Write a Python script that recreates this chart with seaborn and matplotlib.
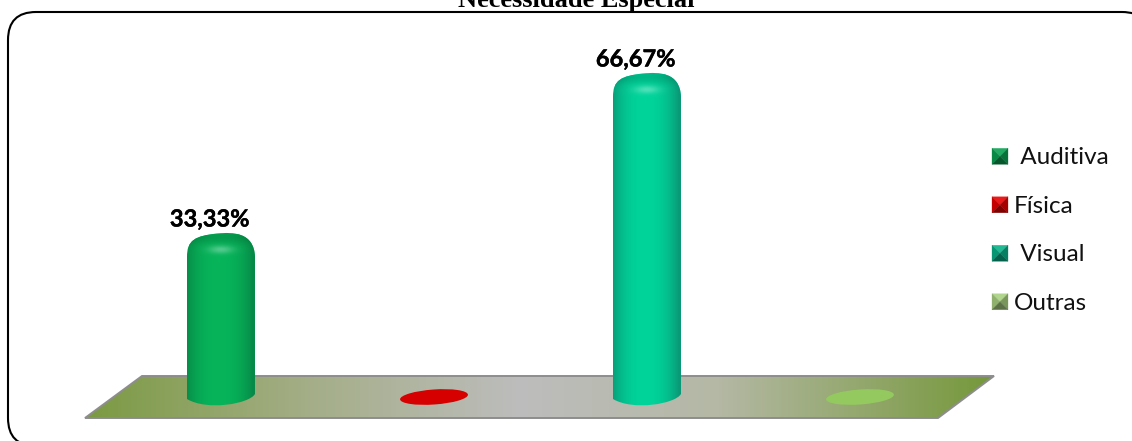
import numpy as np
import pandas as pd
import seaborn as sns
import matplotlib
matplotlib.use("Agg")
import matplotlib.pyplot as plt
import matplotlib.patheffects as pe
from matplotlib.path import Path
from matplotlib.patches import PathPatch, Polygon, Ellipse, FancyBboxPatch, Patch
from matplotlib.colors import to_rgb
from matplotlib.legend_handler import HandlerBase

categories = ["Auditiva", "Física", "Visual", "Outras"]
values = [33.33, 0.0, 66.67, 0.0]
value_labels = ["33,33%", "", "66,67%", ""]
legend_labels = [" Auditiva", "Física", " Visual", "Outras"]
base_colors = ["#06b45a", "#d60000", "#00d49a", "#93c95f"]
edge_colors = ["#078a47", "#c00000", "#0a9a78", "#93c95f"]
title = "Necessidade Especial"

W, H = 1132, 441
BASE_PX, XSTEP, X0, YS = 393.0, 213.0, 221.0, 4.8
sns.set_theme(style="white")
plt.rcParams["font.family"] = ["Lato", "DejaVu Sans"]

fig = plt.figure(figsize=(W / 100, H / 100), dpi=100, facecolor="white")
deco = fig.add_axes([0, 0, 1, 1], zorder=0)
deco.axis("off")
ax = fig.add_axes([0, 0, 1, 1], zorder=1)
ax.patch.set_alpha(0)

df = pd.DataFrame({"cat": categories, "val": values})
sns.barplot(data=df, x="cat", y="val", hue="cat", palette=base_colors, order=categories,
            width=68 / XSTEP, legend=False, ax=ax, saturation=1)
ax.set_xlim(-X0 / XSTEP, (W - X0) / XSTEP)
ax.set_ylim((BASE_PX - H) / YS, BASE_PX / YS)
ax.axis("off")

def dx(px): return (px - X0) / XSTEP
def dy(py): return (BASE_PX - py) / YS

# frame, running off the right and bottom edges
frame = FancyBboxPatch((30, 34), 1098, 390, boxstyle="round,pad=22,rounding_size=28",
                       fc="white", ec="black", lw=1.5)
deco.add_patch(frame)

# floor
floor_pts = [(85, 418), (142, 376), (994, 376), (938, 418)]
stops_x = [85, 300, 520, 720, 994]
stops_c = [to_rgb(c) for c in ["#7b9a42", "#a3ad85", "#bdbdbd", "#b4b8a4", "#75983a"]]
xs = np.linspace(85, 994, 400)
grad = np.stack([np.interp(xs, stops_x, [c[i] for c in stops_c]) for i in range(3)], -1)[None, :, :]
im = deco.imshow(grad, extent=(85, 994, 418, 376), aspect="auto", zorder=1)
fl = Polygon(floor_pts, closed=True, fc="none", ec="#8d8d8d", lw=1.4, zorder=2)
deco.add_patch(fl)
im.set_clip_path(fl)
deco.set_xlim(0, W); deco.set_ylim(H, 0)

# bars & discs
for p, col, edge, v in zip(ax.patches, base_colors, edge_colors, values):
    cx = p.get_x() + p.get_width() / 2
    cpx = X0 + cx * XSTEP
    L, R = cpx - 34, cpx + 34
    if v <= 0:
        p.set_visible(False)
        deco.add_patch(Ellipse((cpx, 397), 68, 15, angle=-4, fc=col, ec="none", zorder=3))
        continue
    T = BASE_PX - v * YS
    verts_px = [(L, 399), (L, T + 24), (L, T + 7), (L + 8, T + 3), (cpx - 4, T + 0.5),
                (cpx + 12, T - 1), (R - 1, T - 1), (R, T + 24), (R, 394),
                (R - 6, 404), (L + 20, 411), (L, 399)]
    codes = [Path.MOVETO, Path.LINETO, Path.CURVE4, Path.CURVE4, Path.CURVE4,
             Path.CURVE4, Path.CURVE4, Path.CURVE4, Path.LINETO,
             Path.CURVE4, Path.CURVE4, Path.CURVE4]
    verts = [(dx(a), dy(b)) for a, b in verts_px]
    clip = PathPatch(Path(verts, codes), transform=ax.transData, fc="none", ec="none")
    ax.add_patch(clip)
    p.set_clip_path(clip)
    # shading image
    ny, nx = int(410 - T + 4), 68
    t = np.linspace(-1, 1, nx)
    yy = np.arange(ny)[:, None]
    k = (1 - np.clip(np.abs(t + 0.05), 0, 1) ** 2.4)[None, :]
    c0, c1 = np.array(to_rgb(edge)), np.array(to_rgb(col))
    img = c0[None, None, :] * (1 - k[..., None]) + c1[None, None, :] * k[..., None]
    hl = np.exp(-((yy - 19) / 4.0) ** 2) * np.exp(-(t[None, :] / 0.36) ** 2)
    cap = np.exp(-((yy - 6) / 7.0) ** 2) * 0.14
    img = img * (1 - cap[..., None])
    img = img + (1 - img) * (0.3 * hl)[..., None]
    ax.imshow(img, extent=(dx(L), dx(R), dy(T - 3 + ny), dy(T - 3)), aspect="auto", zorder=3,
              interpolation="bilinear").set_clip_path(clip)
ax.set_xlim(-X0 / XSTEP, (W - X0) / XSTEP)
ax.set_ylim((BASE_PX - H) / YS, BASE_PX / YS)

# value labels
for p, lab, v in zip(ax.patches, value_labels, values):
    if lab:
        ax.annotate(lab, (p.get_x() + p.get_width() / 2 - 11.5 / XSTEP, v), xytext=(0, 1.8),
                    textcoords="offset points", ha="center", va="bottom",
                    fontsize=17, fontweight="bold", color="black", zorder=5,
                    path_effects=[pe.withStroke(linewidth=0.3, foreground="black")])

# title
deco.text(576, 7, title, ha="center", va="baseline", family="Liberation Serif",
          fontweight="bold", fontsize=19, color="black", zorder=6)

# legend with bevelled swatches
def shade(c, f):
    c = np.array(to_rgb(c))
    return tuple(c * f) if f <= 1 else tuple(c + (1 - c) * (f - 1))

class Bevel(HandlerBase):
    def create_artists(self, legend, orig, xd, yd, w, h, fs, trans):
        s = 16 * 0.72
        x0, y0 = 0, (h - s) / 2
        col = orig.get_facecolor()
        tl, tr, bl, br = (x0, y0 + s), (x0 + s, y0 + s), (x0, y0), (x0 + s, y0)
        m = (x0 + s / 2, y0 + s / 2)
        out = []
        for pts, f in [((tl, tr, m), 1.1), ((tl, bl, m), 0.85), ((tr, br, m), 0.72), ((bl, br, m), 0.55)]:
            c = shade(col, f)
            out.append(Polygon(pts, closed=True, fc=c, ec=c, lw=0.2, transform=trans))
        return out

handles = [Patch(fc=c) for c in ["#08a050", "#e80000", "#08b088", "#a8d080"]]
leg = ax.legend(handles, legend_labels, handler_map={Patch: Bevel()}, frameon=False,
                loc="upper left", bbox_to_anchor=(992 / W, 1 - 147.5 / H), fontsize=17.5,
                handlelength=0.66, handleheight=0.66, handletextpad=0.25, labelspacing=1.13,
                borderpad=0, borderaxespad=0)
for t in leg.get_texts():
    t.set_color("#111111")

fig.savefig("out.png", dpi=100)
